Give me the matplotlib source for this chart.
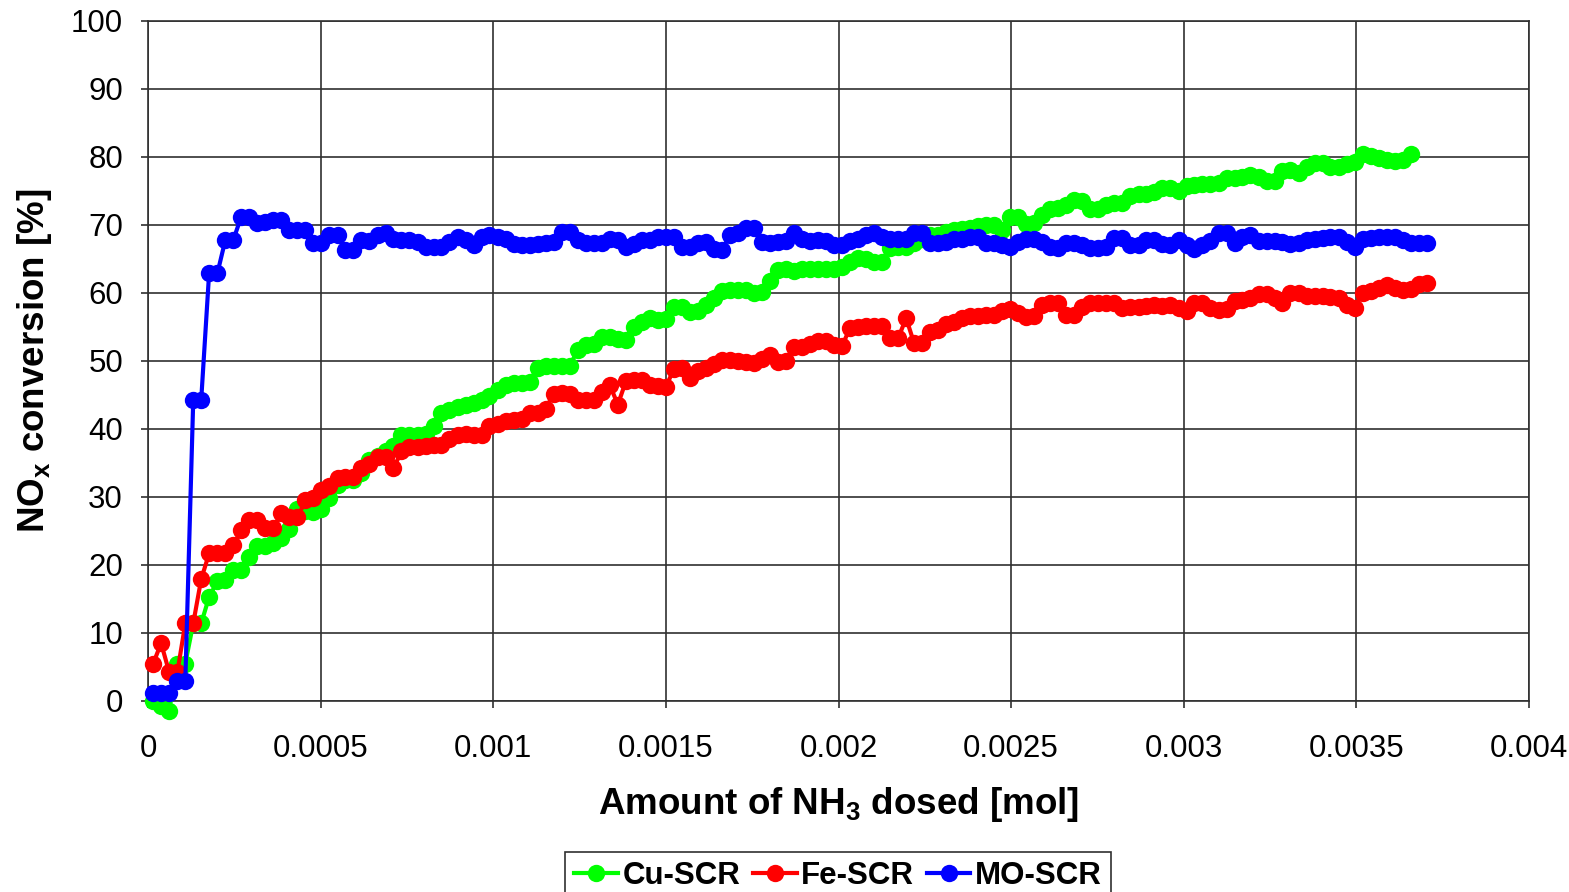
import matplotlib
matplotlib.use("Agg")
import matplotlib.pyplot as plt

plt.rcParams['font.family'] = ['Liberation Sans', 'DejaVu Sans']
plt.rcParams['mathtext.fontset'] = 'custom'
plt.rcParams['mathtext.rm'] = 'Liberation Sans'
plt.rcParams['mathtext.bf'] = 'Liberation Sans:bold'

# NH3 dosed, in micromol (shared sampling grid)
dose_umol = [
    15, 38, 61, 85, 108, 131, 154, 177, 201, 224,
    247, 270, 293, 317, 340, 363, 386, 409, 433, 456,
    479, 502, 525, 549, 572, 595, 618, 641, 665, 688,
    711, 734, 757, 781, 804, 827, 850, 873, 897, 920,
    943, 966, 989, 1013, 1036, 1059, 1082, 1105, 1129, 1152,
    1175, 1198, 1221, 1245, 1268, 1291, 1314, 1337, 1361, 1384,
    1407, 1430, 1453, 1477, 1500, 1523, 1546, 1569, 1593, 1616,
    1639, 1662, 1685, 1709, 1732, 1755, 1778, 1801, 1825, 1848,
    1871, 1894, 1917, 1941, 1964, 1987, 2010, 2033, 2057, 2080,
    2103, 2126, 2149, 2173, 2196, 2219, 2242, 2265, 2289, 2312,
    2335, 2358, 2381, 2405, 2428, 2451, 2474, 2497, 2521, 2544,
    2567, 2590, 2613, 2637, 2660, 2683, 2706, 2729, 2753, 2776,
    2799, 2822, 2845, 2869, 2892, 2915, 2938, 2961, 2985, 3008,
    3031, 3054, 3077, 3101, 3124, 3147, 3170, 3193, 3217, 3240,
    3263, 3286, 3309, 3333, 3356, 3379, 3402, 3425, 3449, 3472,
    3495, 3518, 3541, 3565, 3588, 3611, 3634, 3657, 3681, 3704,
]

cu_scr = [
    0.0, -0.8, -1.5, 5.5, 5.5, 11.4, 11.4, 15.3, 17.6, 17.8,
    19.2, 19.3, 21.2, 22.8, 22.8, 23.2, 24.0, 25.3, 28.2, 28.0,
    27.8, 28.3, 29.8, 31.8, 32.5, 32.5, 33.5, 35.4, 36.0, 36.7,
    37.5, 39.1, 39.1, 39.1, 39.3, 40.5, 42.3, 42.8, 43.3, 43.5,
    43.8, 44.3, 44.8, 45.8, 46.5, 46.7, 46.8, 46.9, 48.9, 49.2,
    49.2, 49.2, 49.3, 51.6, 52.3, 52.5, 53.6, 53.6, 53.2, 53.1,
    55.0, 55.8, 56.3, 56.0, 56.2, 58.0, 58.0, 57.2, 57.3, 58.2,
    59.2, 60.3, 60.5, 60.5, 60.4, 60.0, 60.2, 61.8, 63.4, 63.5,
    63.3, 63.5, 63.5, 63.5, 63.6, 63.6, 63.8, 64.6, 65.1, 65.0,
    64.6, 64.6, 66.6, 66.7, 66.8, 67.3, 68.0, 68.5, 68.6, 69.0,
    69.3, 69.4, 69.5, 69.8, 70.0, 70.0, 69.2, 71.2, 71.2, 70.2,
    70.3, 71.5, 72.4, 72.5, 73.0, 73.7, 73.5, 72.3, 72.4, 73.0,
    73.2, 73.3, 74.2, 74.5, 74.5, 74.8, 75.4, 75.4, 75.0, 75.7,
    75.9, 76.0, 76.0, 76.2, 76.9, 76.9, 77.0, 77.3, 77.0, 76.5,
    76.4, 78.0, 78.1, 77.6, 78.6, 79.1, 79.1, 78.6, 78.6, 79.0,
    79.2, 80.5, 80.2, 79.8, 79.5, 79.4, 79.6, 80.5,
]

fe_scr = [
    5.5, 8.5, 4.3, 4.2, 11.4, 11.4, 17.9, 21.7, 21.7, 21.8,
    22.9, 25.1, 26.6, 26.6, 25.5, 25.5, 27.6, 27.0, 27.0, 29.5,
    29.9, 31.0, 31.6, 32.8, 33.0, 33.0, 34.2, 34.8, 35.9, 35.9,
    34.2, 36.7, 37.3, 37.4, 37.5, 37.6, 37.6, 38.5, 39.1, 39.2,
    39.1, 39.1, 40.5, 40.8, 41.2, 41.3, 41.4, 42.3, 42.4, 43.0,
    45.2, 45.3, 45.2, 44.3, 44.3, 44.3, 45.5, 46.5, 43.6, 47.0,
    47.2, 47.2, 46.5, 46.3, 46.2, 48.8, 48.9, 47.5, 48.5, 49.0,
    49.5, 50.1, 50.1, 50.0, 49.9, 49.7, 50.3, 50.9, 49.9, 50.0,
    52.0, 52.1, 52.5, 52.9, 52.9, 52.3, 52.2, 54.8, 55.0, 55.1,
    55.1, 55.2, 53.4, 53.4, 56.3, 52.6, 52.7, 54.2, 54.5, 55.5,
    55.8, 56.3, 56.6, 56.6, 56.8, 56.8, 57.3, 57.6, 57.0, 56.4,
    56.6, 58.3, 58.5, 58.5, 56.8, 56.8, 58.0, 58.5, 58.6, 58.5,
    58.5, 57.8, 58.0, 58.0, 58.1, 58.2, 58.1, 58.2, 57.8, 57.3,
    58.5, 58.6, 57.8, 57.5, 57.6, 58.8, 58.9, 59.2, 59.8, 59.8,
    59.2, 58.6, 60.0, 60.0, 59.6, 59.5, 59.5, 59.4, 59.3, 58.3,
    57.8, 60.0, 60.3, 60.8, 61.2, 60.8, 60.5, 60.6, 61.3, 61.5,
]

mo_scr = [
    1.2, 1.2, 1.2, 2.9, 2.9, 44.2, 44.2, 62.9, 62.9, 67.8,
    67.8, 71.2, 71.2, 70.3, 70.5, 70.7, 70.7, 69.3, 69.3, 69.3,
    67.4, 67.4, 68.6, 68.6, 66.3, 66.3, 67.8, 67.6, 68.6, 68.8,
    68.0, 67.8, 67.8, 67.5, 66.8, 66.8, 66.8, 67.5, 68.3, 67.8,
    67.1, 68.3, 68.5, 68.2, 68.0, 67.2, 67.1, 67.1, 67.2, 67.3,
    67.5, 69.0, 68.9, 67.8, 67.4, 67.3, 67.3, 68.0, 67.8, 66.8,
    67.2, 67.8, 67.8, 68.2, 68.3, 68.2, 66.8, 66.8, 67.3, 67.5,
    66.5, 66.3, 68.5, 68.8, 69.5, 69.5, 67.5, 67.4, 67.5, 67.6,
    68.8, 68.0, 67.6, 67.8, 67.6, 67.0, 67.1, 67.6, 68.0, 68.6,
    68.8, 68.2, 68.0, 68.0, 68.0, 68.8, 68.8, 67.3, 67.3, 67.5,
    68.0, 68.0, 68.2, 68.3, 67.3, 67.3, 67.0, 66.8, 67.5, 68.0,
    68.0, 67.5, 66.7, 66.6, 67.3, 67.4, 67.0, 66.6, 66.6, 66.7,
    68.1, 68.1, 67.0, 67.0, 67.8, 67.8, 67.2, 67.1, 67.8, 67.0,
    66.4, 67.0, 67.6, 68.8, 68.8, 67.4, 68.2, 68.6, 67.6, 67.6,
    67.6, 67.5, 67.2, 67.3, 67.8, 67.9, 68.1, 68.3, 68.3, 67.5,
    66.7, 68.0, 68.1, 68.2, 68.2, 68.3, 67.8, 67.4, 67.4, 67.4,
]

series_names = ['Cu-SCR', 'Fe-SCR', 'MO-SCR']
x_ticks = [0, 0.0005, 0.001, 0.0015, 0.002, 0.0025, 0.003, 0.0035, 0.004]
x_tick_labels = ['0', '0.0005', '0.001', '0.0015', '0.002', '0.0025', '0.003', '0.0035', '0.004']
y_ticks = [0, 10, 20, 30, 40, 50, 60, 70, 80, 90, 100]

W, H = 1569, 892
fig = plt.figure(figsize=(W / 100, H / 100), dpi=100)
ax = fig.add_axes([148 / W, 1 - 701 / H, 1381 / W, 680 / H])

dose_mol = [d * 1e-6 for d in dose_umol]
colors = ['#00FF00', '#FF0000', '#0000FF']
for ys, name, c in zip([cu_scr, fe_scr, mo_scr], series_names, colors):
    ax.plot(dose_mol[:len(ys)], ys, color=c, lw=3, marker='o', ms=12.5,
            mec=c, mfc=c, mew=0, label=name, clip_on=False, zorder=3)

ax.set_xlim(0, 0.004)
ax.set_ylim(0, 100)
ax.set_xticks(x_ticks)
ax.set_xticklabels(x_tick_labels)
ax.set_yticks(y_ticks)
ax.grid(True, color='#303030', lw=1.2)
ax.set_axisbelow(True)
for s in ax.spines.values():
    s.set_color('#303030')
    s.set_linewidth(1.2)
ax.tick_params(axis='both', labelsize=22.5, length=5, width=1.2, color='#303030')
ax.tick_params(axis='x', pad=19)
ax.tick_params(axis='y', pad=13)

ax.set_xlabel(r'Amount of NH$_\mathbf{3}$ dosed [mol]', fontsize=26.5, fontweight='bold')
ax.set_ylabel(r'NO$_\mathbf{x}$ conversion [%]', fontsize=26.5, fontweight='bold')
ax.xaxis.set_label_coords(0.5, (701 - 785) / 680)
ax.yaxis.set_label_coords((54 - 148) / 1381, 0.5)

leg = fig.legend(loc='upper center', bbox_to_anchor=(838 / W, 1 - 852 / H),
                 ncol=3, frameon=True, fancybox=False, borderaxespad=0,
                 prop={'size': 22.5, 'weight': 'bold'}, handlelength=1.4,
                 handletextpad=0.15, columnspacing=0.4, borderpad=0.3)
leg.get_frame().set_edgecolor('#303030')
leg.get_frame().set_linewidth(1.2)
leg.get_frame().set_alpha(1)

fig.savefig('out.png', dpi=100)
